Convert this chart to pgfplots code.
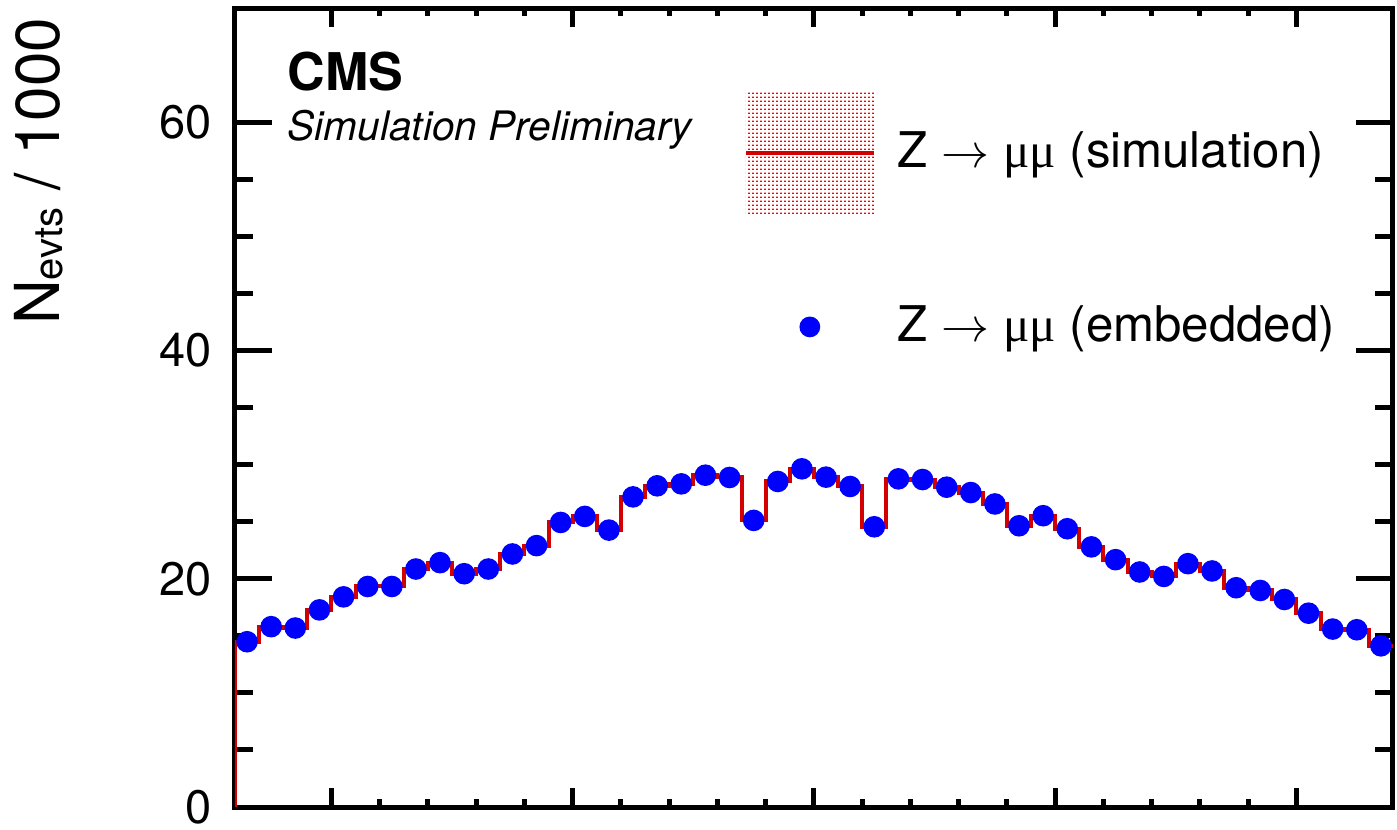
\documentclass[border=0pt]{standalone}
\usepackage{fontspec}
\setmainfont{TeX Gyre Heros}
\newfontfamily\mufont{Liberation Serif}
\usepackage{pgfplots}
\pgfplotsset{compat=1.18}
\usepackage{pgfplotstable}
\usetikzlibrary{patterns.meta}

\definecolor{histred}{RGB}{210,0,0}
\definecolor{embblue}{RGB}{0,0,255}

\tikzdeclarepattern{
  name=rootdots,
  type=uncolored,
  bounding box={(0pt,0pt) and (1pt,1pt)},
  tile size={(1pt,1pt)},
  code={\fill (0pt,0pt) rectangle (0.6pt,0.45pt);}
}

% simulation histogram: lower bin edge, events/1000
\pgfplotstableread{
lo    sim
-2.4  0
-2.4  14.48
-2.3  15.80
-2.2  15.68
-2.1  17.27
-2.0  18.41
-1.9  19.32
-1.8  19.32
-1.7  20.85
-1.6  21.41
-1.5  20.44
-1.4  20.85
-1.3  22.17
-1.2  22.90
-1.1  24.93
-1.0  25.46
-0.9  24.26
-0.8  27.17
-0.7  28.14
-0.6  28.31
-0.5  29.07
-0.4  28.87
-0.3  25.11
-0.2  28.52
-0.1  29.63
 0.0  28.90
 0.1  28.08
 0.2  24.55
 0.3  28.75
 0.4  28.69
 0.5  28.02
 0.6  27.55
 0.7  26.55
 0.8  24.64
 0.9  25.52
 1.0  24.38
 1.1  22.79
 1.2  21.67
 1.3  20.59
 1.4  20.20
 1.5  21.32
 1.6  20.68
 1.7  19.21
 1.8  18.97
 1.9  18.18
 2.0  16.98
 2.1  15.59
 2.2  15.53
 2.3  14.12
 2.4  14.12
}\simtable

% embedded sample: bin centre, events/1000
\pgfplotstableread{
x      emb
-2.35  14.48
-2.25  15.80
-2.15  15.68
-2.05  17.27
-1.95  18.41
-1.85  19.32
-1.75  19.32
-1.65  20.85
-1.55  21.41
-1.45  20.44
-1.35  20.85
-1.25  22.17
-1.15  22.90
-1.05  24.93
-0.95  25.46
-0.85  24.26
-0.75  27.17
-0.65  28.14
-0.55  28.31
-0.45  29.07
-0.35  28.87
-0.25  25.11
-0.15  28.52
-0.05  29.63
 0.05  28.90
 0.15  28.08
 0.25  24.55
 0.35  28.75
 0.45  28.69
 0.55  28.02
 0.65  27.55
 0.75  26.55
 0.85  24.64
 0.95  25.52
 1.05  24.38
 1.15  22.79
 1.25  21.67
 1.35  20.59
 1.45  20.20
 1.55  21.32
 1.65  20.68
 1.75  19.21
 1.85  18.97
 1.95  18.18
 2.05  16.98
 2.15  15.59
 2.25  15.53
 2.35  14.12
}\embtable

\begin{document}
\begin{tikzpicture}
\useasboundingbox (0pt,0pt) rectangle (349.25pt,207.25pt);
\begin{axis}[
    at={(58.75pt,5.5pt)}, anchor=south west,
    scale only axis,
    width=289.5pt, height=199.75pt,
    xmin=-2.4, xmax=2.4,
    ymin=0, ymax=70,
    xtick={-2,-1,0,1,2},
    xticklabels={},
    minor x tick num=4,
    ytick={0,20,40,60},
    minor y tick num=3,
    tick align=inside,
    axis line style={line width=1.25pt},
    tick style={black, line width=1.25pt},
    xtick style={/pgfplots/major tick length=4.75pt, /pgfplots/minor tick length=2.1pt},
    ytick style={/pgfplots/major tick length=9.25pt, /pgfplots/minor tick length=4.5pt},
    /pgf/number format/assume math mode=true,
    yticklabel style={font=\fontsize{11.75}{14}\selectfont, xshift=-2.3pt},
    legend cell align=left,
    legend style={draw=none, fill=none, inner sep=0pt, outer sep=0pt,
        at={(axis description cs:0.4396,0.8949)}, anchor=north west,
        font=\fontsize{12.3}{14}\selectfont,
        row sep=23pt, column sep=0pt,
        nodes={inner sep=0pt}},
]
\addplot[const plot, histred, line width=1pt,
    legend image code/.code={
        \fill[draw=none, pattern=rootdots, pattern color=red] (0pt,-15.25pt) rectangle (32pt,15.25pt);
        \draw[histred, line width=0.9pt] (0pt,0pt) -- (32pt,0pt);
        \path[draw=none, fill=none] (0pt,0pt) rectangle (38pt,0.1pt);
    }] table[x=lo, y=sim] {\simtable};
\addlegendentry{Z $\rightarrow$ {\mufont μμ} (simulation)}
\addplot[only marks, mark=*, mark size=2.5pt,
    mark options={draw=embblue, fill=embblue},
    legend image code/.code={
        \fill[draw=none, embblue] (16pt,0pt) circle (2.6pt);
        \path[draw=none, fill=none] (0pt,0pt) rectangle (38pt,0.1pt);
    }] table[x=x, y=emb] {\embtable};
\addlegendentry{Z $\rightarrow$ {\mufont μμ} (embedded)}
\end{axis}
\node[anchor=base west, inner sep=0pt, font=\fontsize{13}{15}\selectfont\bfseries] at (71.75pt,184.75pt) {CMS};
\node[anchor=base west, inner sep=0pt, font=\fontsize{10.15}{12}\selectfont\itshape] at (71.75pt,172.25pt) {Simulation Preliminary};
\node[rotate=90, anchor=base east, inner sep=0pt, font=\fontsize{15.5}{18}\selectfont] at (15pt,203pt)
    {N\raisebox{-0.6pt}{\fontsize{10}{12}\selectfont evts} / 1000};
\end{tikzpicture}
\end{document}
